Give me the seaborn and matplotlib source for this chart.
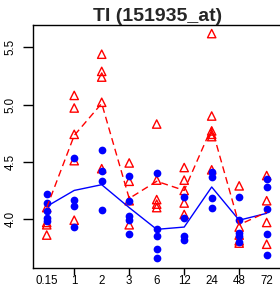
import numpy as np
import pandas as pd
import matplotlib
matplotlib.use("Agg")
import matplotlib.pyplot as plt
import seaborn as sns

categories = ["0.15", "1", "2", "3", "6", "12", "24", "48", "72"]

blue_points = [
    [4.22, 4.14, 4.07, 4.01, 3.98],
    [4.53, 4.17, 4.11, 3.93],
    [4.60, 4.42, 4.33, 4.08],
    [4.38, 4.16, 4.03, 3.99, 3.87],
    [4.40, 3.91, 3.85, 3.74, 3.66],
    [4.19, 4.01, 3.85, 3.82],
    [4.41, 4.37, 4.18, 4.10],
    [4.19, 3.99, 3.88, 3.85, 3.80],
    [4.35, 4.28, 4.09, 3.87, 3.69],
]
red_points = [
    [4.10, 3.97, 3.95, 3.86],
    [5.08, 4.97, 4.74, 4.51, 3.99],
    [5.44, 5.29, 5.24, 5.02, 4.44],
    [4.49, 4.33, 4.16, 3.95],
    [4.83, 4.34, 4.17, 4.13, 4.10],
    [4.45, 4.34, 4.25, 4.14, 4.04],
    [5.62, 4.90, 4.77, 4.74, 4.72, 4.43],
    [4.29, 3.93, 3.86, 3.81, 3.79],
    [4.38, 4.16, 3.97, 3.78],
]
blue_line = [4.11, 4.25, 4.30, 4.10, 3.91, 3.93, 4.28, 3.99, 4.05]
red_line = [4.10, 4.73, 5.01, 4.18, 4.33, 4.25, 4.80, 3.95, 4.06]

y_ticks = [4.0, 4.5, 5.0, 5.5]
y_tick_labels = ["4.0", "4.5", "5.0", "5.5"]
title = "TI (151935_at)"

BLUE = "#0000FF"
RED = "#FF0000"

sns.set_style("ticks")
plt.rcParams["font.family"] = ["Liberation Sans", "DejaVu Sans"]


def long_form(points):
    rows = []
    for i, (cat, vals) in enumerate(zip(categories, points)):
        for v in vals:
            rows.append({"time": cat, "pos": i, "value": v})
    return pd.DataFrame(rows)


blue_df = long_form(blue_points)
red_df = long_form(red_points)
line_df = pd.DataFrame({"pos": np.arange(len(categories)),
                        "blue": blue_line, "red": red_line})

W, H = 280, 291
fig = plt.figure(figsize=(W / 100, H / 100), dpi=100)
left, right, top, bottom = 32.5, 282.0, 25.0, 267.7
ax = fig.add_axes([left / W, (H - bottom) / H, (right - left) / W, (bottom - top) / H])

sns.scatterplot(data=red_df, x="pos", y="value", ax=ax, marker="^", s=36,
                facecolor="none", edgecolor=RED, linewidth=1.0, zorder=2)
sns.scatterplot(data=blue_df, x="pos", y="value", ax=ax, marker="o", s=31,
                color=BLUE, edgecolor=BLUE, linewidth=0, zorder=3)
sns.lineplot(data=line_df, x="pos", y="blue", ax=ax, color=BLUE, linewidth=1.0,
             zorder=4)
sns.lineplot(data=line_df, x="pos", y="red", ax=ax, color=RED, linewidth=1.0,
             linestyle=(0, (5, 3)), zorder=5)

ax.set_xlim(-0.517, 8.557)
ax.set_ylim(3.575, 5.695)

ax.set_xticks(np.arange(len(categories)))
ax.set_xticklabels(categories)
ax.xaxis.remove_overlapping_locs = False
ax.set_xticks([1, 3, 5, 7], minor=True)
ax.tick_params(axis="x", which="major", length=0, pad=5.2, labelsize=8.3,
               colors="black")
ax.tick_params(axis="x", which="minor", length=5, width=1.0, color="black")

ax.set_yticks(y_ticks)
ax.set_yticklabels(y_tick_labels)
ax.tick_params(axis="y", which="major", length=7, width=1.0, pad=4.6,
               labelsize=8.3, labelrotation=90, colors="black")
for lab in ax.get_yticklabels():
    lab.set_va("center")

for sp in ax.spines.values():
    sp.set_visible(True)
    sp.set_linewidth(1.0)
    sp.set_color("black")

ax.set_xlabel("")
ax.set_ylabel("")
ax.set_title(title, fontsize=14, fontweight="bold", pad=1.5)
ax.grid(False)
ax.set_facecolor("white")
fig.patch.set_facecolor("white")

fig.savefig("out.png", dpi=100)
